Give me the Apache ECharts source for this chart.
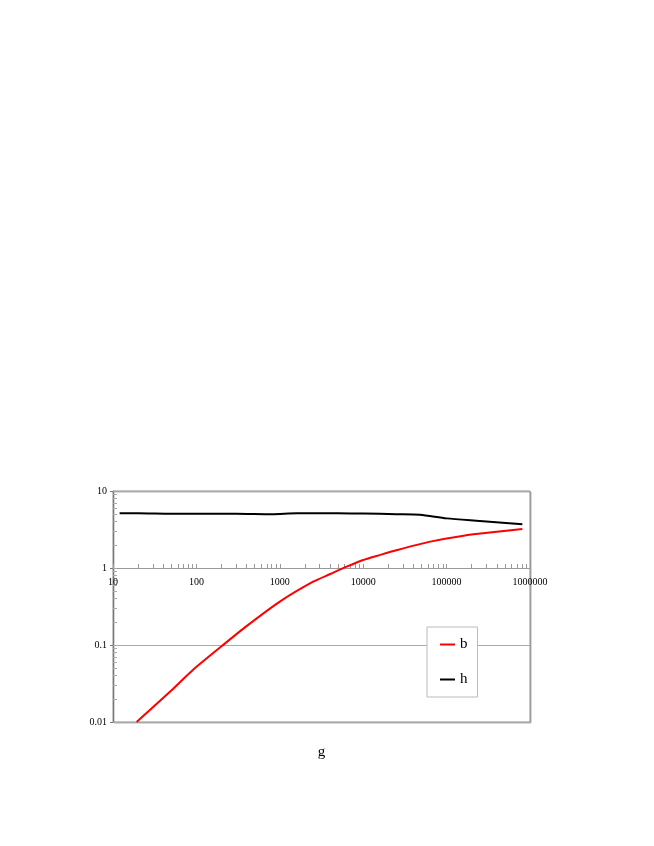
<!DOCTYPE html>
<html>
<head>
<meta charset="utf-8">
<script src="https://cdn.jsdelivr.net/npm/echarts@6/dist/echarts.min.js"></script>
<style>
  html, body { margin: 0; padding: 0; background: #fff; }
  #chart-container { width: 654px; height: 846px; }
</style>
</head>
<body>
<div id="chart-container"></div>
<script>
// values
var hX = [12, 20, 50, 100, 300, 800, 1600, 5000, 10000, 25000, 48000, 100000, 250000, 810000];
var hY = [5.15, 5.15, 5.08, 5.08, 5.08, 5.0, 5.15, 5.13, 5.1, 5.0, 4.92, 4.41, 4.08, 3.69];

var bX = [19.2, 50, 92, 202, 403, 1000, 2510, 4030, 6330, 10000, 16000, 25400, 63800, 160000, 400000, 810000];
var bY = [0.01, 0.0256, 0.048, 0.097, 0.177, 0.366, 0.664, 0.836, 1.04, 1.27, 1.48, 1.71, 2.2, 2.63, 2.95, 3.2];

var xLabels = [10, 100, 1000, 10000, 100000, 1000000];
var yLabels = [0.01, 0.1, 1, 10];

function minorValues(lo, hi) {
    var out = [];
    for (var d = lo; d < hi; d *= 10) {
        for (var k = 1; k < 10; k++) out.push(+(k * d).toPrecision(6));
    }
    out.push(hi);
    return out;
}

function pairs(xs, ys) {
    return xs.map(function (x, i) { return [x, ys[i]]; });
}

function plain(v) {
    return String(+v.toPrecision(6));
}

var serif = '"Liberation Serif", "DejaVu Serif", serif';
var lineIcon = 'path://M0,0 L30,0 L30,4 L0,4 Z';
var chart = echarts.init(document.getElementById('chart-container'));

chart.setOption({
    animation: false,
    backgroundColor: '#fff',
    grid: {
        left: 113, right: 124, top: 491, bottom: 124,
        show: true,
        backgroundColor: '#fff',
        borderColor: '#8a8a8a',
        borderWidth: 1,
        shadowColor: '#b0b0b0',
        shadowBlur: 0,
        shadowOffsetX: 1,
        shadowOffsetY: 1
    },
    legend: {
        orient: 'vertical',
        left: 427, top: 627,
        padding: [10, 10, 10, 13],
        backgroundColor: '#fff',
        borderColor: '#bbb',
        borderWidth: 1,
        itemWidth: 15,
        itemHeight: 14,
        itemGap: 20,
        textStyle: { fontFamily: serif, fontSize: 15, color: '#000' },
        data: [{ name: 'b', icon: lineIcon }, { name: 'h', icon: lineIcon }]
    },
    xAxis: [{
        type: 'log', logBase: 10, min: 10, max: 1000000,
        name: 'g', nameLocation: 'middle', nameGap: 23,
        nameTextStyle: { fontFamily: serif, fontSize: 15, color: '#000' },
        axisLine: { show: false },
        axisTick: { show: false },
        axisLabel: { show: false },
        splitLine: { show: false }
    }, {
        type: 'log', logBase: 10, min: 10, max: 1000000,
        position: 'bottom', offset: -154,
        axisLine: { show: true, lineStyle: { color: '#999', width: 1 } },
        axisTick: { show: true, inside: true, length: 4, lineStyle: { color: '#999' },
                    customValues: minorValues(10, 1000000) },
        axisLabel: { show: true, margin: 9, fontFamily: serif, fontSize: 10, color: '#000',
                     customValues: xLabels, formatter: plain },
        splitLine: { show: false }
    }],
    yAxis: [{
        type: 'log', logBase: 10, min: 0.01, max: 10,
        axisLine: { show: true, lineStyle: { color: '#777', width: 1 } },
        axisTick: { show: true, inside: false, length: 3, lineStyle: { color: '#777' },
                    customValues: yLabels },
        axisLabel: { margin: 6, fontFamily: serif, fontSize: 10, color: '#000',
                     customValues: yLabels, formatter: plain },
        splitLine: { show: true, lineStyle: { color: '#aaa', width: 1 } }
    }, {
        type: 'log', logBase: 10, min: 0.01, max: 10,
        position: 'left',
        axisLine: { show: false },
        axisTick: { show: true, inside: true, length: 4, lineStyle: { color: '#aaa' },
                    customValues: minorValues(0.01, 10) },
        axisLabel: { show: false },
        splitLine: { show: false }
    }],
    series: [{
        name: 'b', type: 'line', xAxisIndex: 0, yAxisIndex: 0,
        data: pairs(bX, bY),
        symbol: 'none', smooth: 0.25,
        lineStyle: { color: '#ff0000', width: 2 },
        itemStyle: { color: '#ff0000' }
    }, {
        name: 'h', type: 'line', xAxisIndex: 0, yAxisIndex: 0,
        data: pairs(hX, hY),
        symbol: 'none', smooth: 0.25,
        lineStyle: { color: '#000', width: 2 },
        itemStyle: { color: '#000' }
    }]
});
</script>
</body>
</html>
